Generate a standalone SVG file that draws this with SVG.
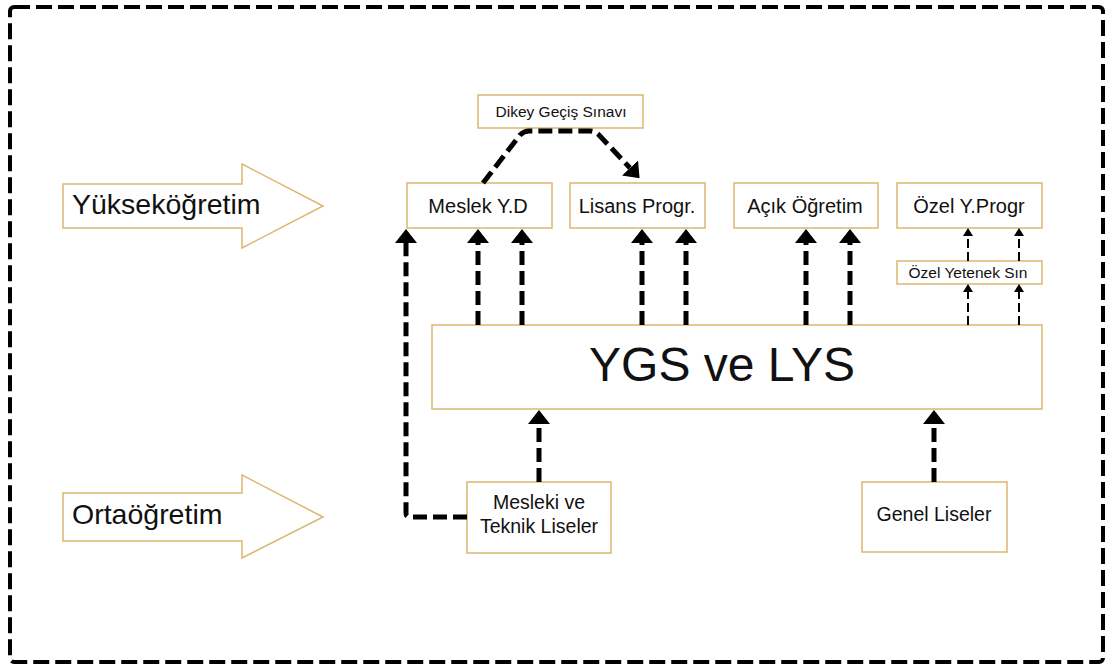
<svg xmlns="http://www.w3.org/2000/svg" width="1110" height="670" viewBox="0 0 1110 670">
<defs>
<marker id="ah" viewBox="0 0 14 22" refX="0" refY="11" markerWidth="14" markerHeight="22" markerUnits="userSpaceOnUse" orient="auto"><path d="M0,0 L14,11 L0,22 z" fill="#000"/></marker>
<marker id="ahs" viewBox="0 0 8 10" refX="0" refY="5" markerWidth="8" markerHeight="10" markerUnits="userSpaceOnUse" orient="auto"><path d="M0,0 L8,5 L0,10 z" fill="#000"/></marker>
<style>
.box{fill:#fff;stroke:#dcb66e;stroke-width:1.5}
.t{font-family:"Liberation Sans",Arial,sans-serif;fill:#111;text-anchor:middle}
.tl{font-family:"Liberation Sans",Arial,sans-serif;fill:#111}
.thick{fill:none;stroke:#000;stroke-width:5;stroke-dasharray:14 6;marker-end:url(#ah)}
.thin{fill:none;stroke:#000;stroke-width:2;stroke-dasharray:9 4;marker-end:url(#ahs)}
</style>
</defs>
<rect x="0" y="0" width="1110" height="670" fill="#fff"/>
<rect x="10" y="7" width="1093" height="655" rx="4" fill="none" stroke="#000" stroke-width="4" stroke-dasharray="16 6"/>

<g id="yuksekogretim">
<path class="box" d="M63,184 H242 V164 L323,206 L242,248 V228 H63 Z"/>
<text class="tl" x="72" y="214" font-size="28.5">Yükseköğretim</text>
</g>
<g id="ortaogretim">
<path class="box" d="M63,493 H242 V475 L323,517 L242,558 V541 H63 Z"/>
<text class="tl" x="72" y="524" font-size="28.5">Ortaöğretim</text>
</g>

<g id="dikey">
<rect class="box" x="478" y="95" width="165" height="33"/>
<text class="t" x="561" y="117" font-size="15.5">Dikey Geçiş Sınavı</text>
</g>
<g id="meslekyd">
<rect class="box" x="407" y="183" width="145" height="45"/>
<text class="t" x="478" y="213" font-size="20">Meslek Y.D</text>
</g>
<g id="lisans">
<rect class="box" x="570" y="183" width="135" height="45"/>
<text class="t" x="637" y="213" font-size="20">Lisans Progr.</text>
</g>
<g id="acik">
<rect class="box" x="734" y="183" width="144" height="45"/>
<text class="t" x="805" y="213" font-size="20">Açık Öğretim</text>
</g>
<g id="ozelprogr">
<rect class="box" x="897" y="183" width="145" height="45"/>
<text class="t" x="969" y="213" font-size="20">Özel Y.Progr</text>
</g>
<g id="ozelyetenek">
<rect class="box" x="897" y="261" width="145" height="23"/>
<text class="t" x="968" y="278" font-size="15.5">Özel Yetenek Sın</text>
</g>
<g id="ygs">
<rect class="box" x="432" y="325" width="610" height="84"/>
<text class="t" x="722" y="381" font-size="48">YGS ve LYS</text>
</g>
<g id="mesleki">
<rect class="box" x="467" y="482" width="144" height="71"/>
<text class="t" x="539" y="509" font-size="19.5">Mesleki ve</text>
<text class="t" x="539" y="533" font-size="19.5">Teknik Liseler</text>
</g>
<g id="genel">
<rect class="box" x="862" y="482" width="145" height="70"/>
<text class="t" x="934" y="521" font-size="19.5">Genel Liseler</text>
</g>

<g id="connectors">
<path class="thick" d="M483,183 L520,135 Q524,131 529,131 H590 Q595,131 599,135 L630,168"/>
<path class="thick" d="M467,517 H410 Q406,517 406,513 V243"/>
<path class="thick" d="M478,325 V243"/>
<path class="thick" d="M522,325 V243"/>
<path class="thick" d="M642,325 V243"/>
<path class="thick" d="M686,325 V243"/>
<path class="thick" d="M806,325 V243"/>
<path class="thick" d="M850,325 V243"/>
<path class="thin" d="M968,325 V292"/>
<path class="thin" d="M1019,325 V292"/>
<path class="thin" d="M968,261 V236"/>
<path class="thin" d="M1019,261 V236"/>
<path class="thick" d="M539,482 V424"/>
<path class="thick" d="M934,482 V424"/>
</g>
</svg>
